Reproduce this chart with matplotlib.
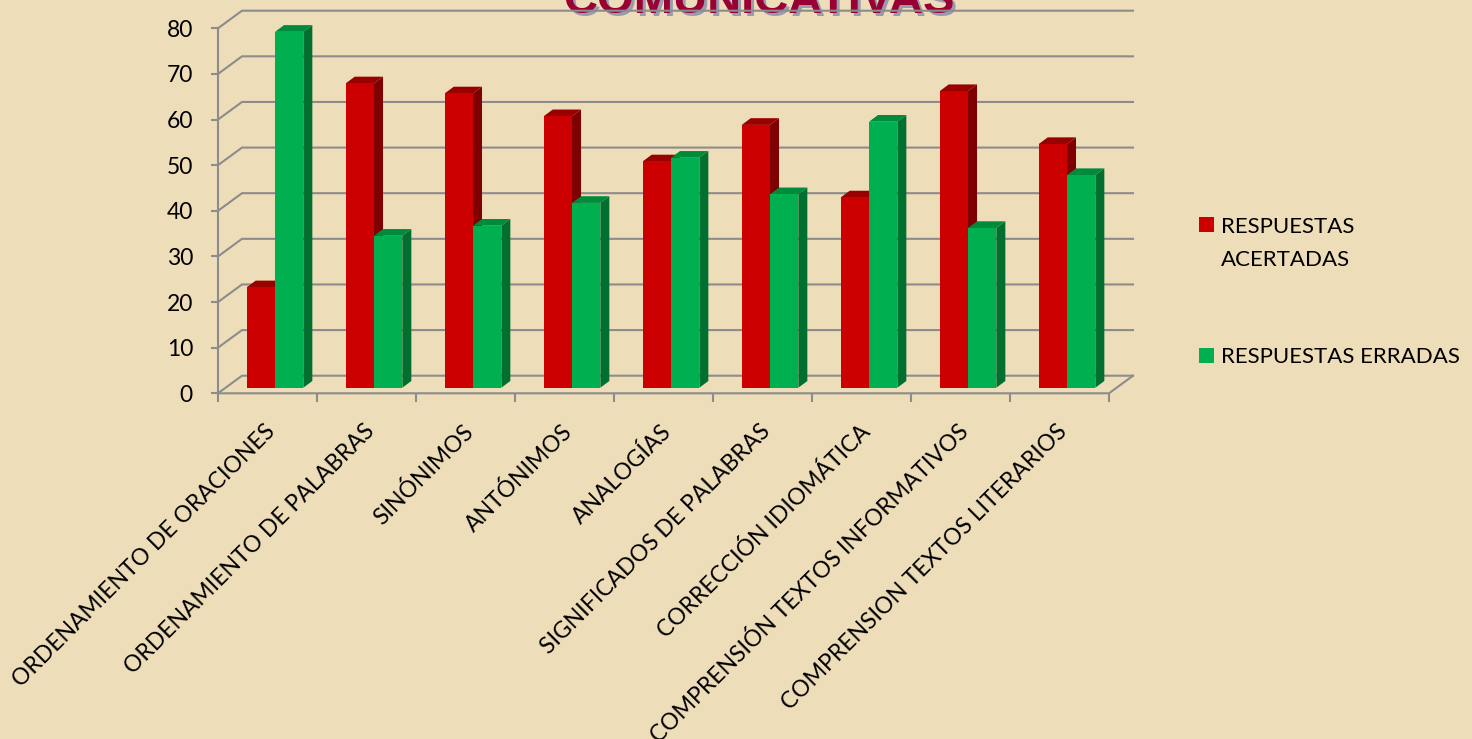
import matplotlib
matplotlib.use("Agg")
import matplotlib.pyplot as plt
from matplotlib.patches import Polygon, Rectangle

# ---------------- data ----------------
categories = [
    "ORDENAMIENTO DE ORACIONES",
    "ORDENAMIENTO DE PALABRAS",
    "SINÓNIMOS",
    "ANTÓNIMOS",
    "ANALOGÍAS",
    "SIGNIFICADOS DE PALABRAS",
    "CORRECCIÓN IDIOMÁTICA",
    "COMPRENSIÓN TEXTOS INFORMATIVOS",
    "COMPRENSION TEXTOS LITERARIOS",
]
acertadas = [22, 66.7, 64.5, 59.5, 49.6, 57.6, 41.7, 65, 53.4]
erradas = [78, 33.3, 35.5, 40.5, 50.4, 42.4, 58.3, 35, 46.6]
series_names = ["RESPUESTAS\nACERTADAS", "RESPUESTAS ERRADAS"]
yticks = list(range(0, 81, 10))
title = "COMUNICATIVAS"

# ---------------- style ----------------
plt.rcParams["font.family"] = ["Lato", "DejaVu Sans"]
BG = "#EEDDB9"
GRID = "#8C8C8C"
RED = ("#CC0000", "#7E0000", "#990000")     # front, side, top
GREEN = ("#00B050", "#006F30", "#008A3C")

W, H = 1472, 739
fig = plt.figure(figsize=(W / 100, H / 100), dpi=100, facecolor=BG)

PX_X = 99.0       # pixels per category
PX_Y = 4.5625     # pixels per unit
x0px, y0px = 218.0, 393.3
DXp, DYp = 24.0, 17.6
DX, DY = DXp / PX_X, DYp / PX_Y
xmax, ymax = len(categories) + DX, 80 + DY

ax = fig.add_axes([x0px / W, (H - y0px) / H,
                   (len(categories) * PX_X + DXp) / W, (80 * PX_Y + DYp) / H])
ax.set_xlim(0, xmax)
ax.set_ylim(0, ymax)
ax.patch.set_visible(False)
for s in ax.spines.values():
    s.set_visible(False)

n = len(categories)
LW = 1.5
# back wall gridlines + left wall diagonals
for v in yticks:
    ax.plot([0, DX, xmax], [v, v + DY, v + DY], color=GRID, lw=LW,
            clip_on=False, zorder=1, solid_joinstyle="miter")
# front axes
ax.plot([0, 0], [0, 80], color=GRID, lw=LW, clip_on=False, zorder=1)
ax.plot([0, n, n + DX], [0, 0, DY], color=GRID, lw=LW, clip_on=False, zorder=1)

ax.set_yticks(yticks)
ax.tick_params(axis="y", length=5, width=LW, color=GRID, pad=13,
               labelsize=16.5, labelcolor="black")
ax.set_xticks(range(n + 1))
ax.set_xticklabels([])
ax.tick_params(axis="x", length=6.5, width=LW, color=GRID)

# ---------------- 3D-looking bars ----------------
OFF = 0.29     # left offset of first bar within category
BW = 0.286     # bar width (category units)
B = 5.6 / PX_Y  # bar base raise (depth)
ddx, ddy = 9.0 / PX_X, 6.7 / PX_Y


def bar3d(x, v, cols, z):
    front, side, top = cols
    ax.add_patch(Polygon([(x + BW, B), (x + BW, B + v), (x + BW + ddx, B + v + ddy),
                          (x + BW + ddx, B + ddy)], closed=True, fc=side, ec="none", zorder=z))
    ax.add_patch(Polygon([(x, B + v), (x + BW, B + v), (x + BW + ddx, B + v + ddy),
                          (x + ddx, B + v + ddy)], closed=True, fc=top, ec="none", zorder=z))
    ax.add_patch(Rectangle((x, B), BW, v, fc=front, ec="none", zorder=z))


for i in range(n):
    bar3d(i + OFF, acertadas[i], RED, 3)
    bar3d(i + OFF + BW, erradas[i], GREEN, 3)

# category labels
for i, lab in enumerate(categories):
    ax.text(i + 0.5 - 3 / PX_X, -27 / PX_Y, lab, rotation=45, rotation_mode="anchor",
            ha="right", va="top", fontsize=16.5, color="black", clip_on=False)

# ---------------- title ----------------
tx, ty = 759 / W, 1 - 13 / H
fig.text(tx + 2.5 / W, ty - 2.5 / H, title, ha="center", va="baseline", fontsize=34,
         fontweight="bold", family="Liberation Sans", color="#9A9BAE", zorder=-2)
fig.text(tx, ty, title, ha="center", va="baseline", fontsize=34,
         fontweight="bold", family="Liberation Sans", color="#990033", zorder=-1)

# ---------------- legend ----------------
fig.add_artist(Rectangle((1199 / W, 1 - 232 / H), 15 / W, 15 / H,
                         transform=fig.transFigure, fc=RED[0], ec="none"))
fig.add_artist(Rectangle((1199 / W, 1 - 363 / H), 15 / W, 15 / H,
                         transform=fig.transFigure, fc=GREEN[0], ec="none"))
l1, l2 = series_names[0].split("\n")
fig.text(1221 / W, 1 - 233 / H, l1, va="baseline", ha="left", fontsize=16, color="black")
fig.text(1221 / W, 1 - 266 / H, l2, va="baseline", ha="left", fontsize=16, color="black")
fig.text(1221 / W, 1 - 363 / H, series_names[1], va="baseline", ha="left", fontsize=16,
         color="black")

fig.savefig("out.png", dpi=100, facecolor=BG)
